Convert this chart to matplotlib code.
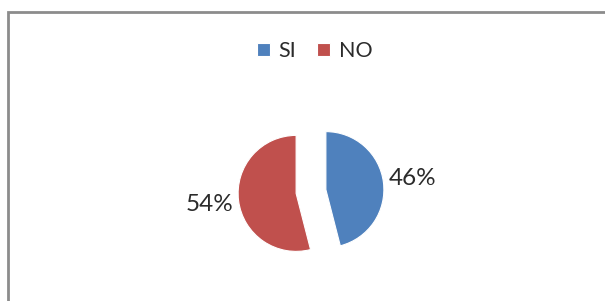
import matplotlib
matplotlib.use("Agg")
from matplotlib import pyplot as plt
from matplotlib.patches import Rectangle

labels = ['SI', 'NO']
values = [46, 54]
colors = ['#4F81BD', '#C0504D']

plt.rcParams['font.family'] = ['Lato', 'DejaVu Sans']

fig = plt.figure(figsize=(6.05, 3.01), dpi=100)
ax = fig.add_axes([0, 0, 1, 1])

# outer chart frame (runs off the right and bottom of the crop)
fig.patches.append(Rectangle((8 / 605, -0.2), 1.2, 1.2 - 12 / 301,
                             transform=fig.transFigure, fill=False,
                             edgecolor='#8c8c8c', linewidth=2))

# explode is in data units here (pixels), not a fraction of the radius
wedges, texts, autotexts = ax.pie(
    values, labels=None, colors=colors, startangle=90, counterclock=False,
    explode=[15, 15], radius=58, center=(311, 109.5),
    autopct='%1.0f%%', pctdistance=1.5,
    textprops={'fontsize': 17.5, 'color': '#2b2b2b'},
    wedgeprops={'linewidth': 0.8, 'edgecolor': 'white'}, frame=True)
ax.set_xlim(0, 605)
ax.set_ylim(0, 301)
ax.axis('off')

leg = fig.legend(wedges, labels, loc='center', bbox_to_anchor=(0.52, 0.83),
                 ncol=2, frameon=False, fontsize=15.5, handlelength=0.6,
                 handleheight=0.6, handletextpad=0.4, columnspacing=1.0)
for t in leg.get_texts():
    t.set_color('#2b2b2b')

fig.savefig('out.png', dpi=100)
